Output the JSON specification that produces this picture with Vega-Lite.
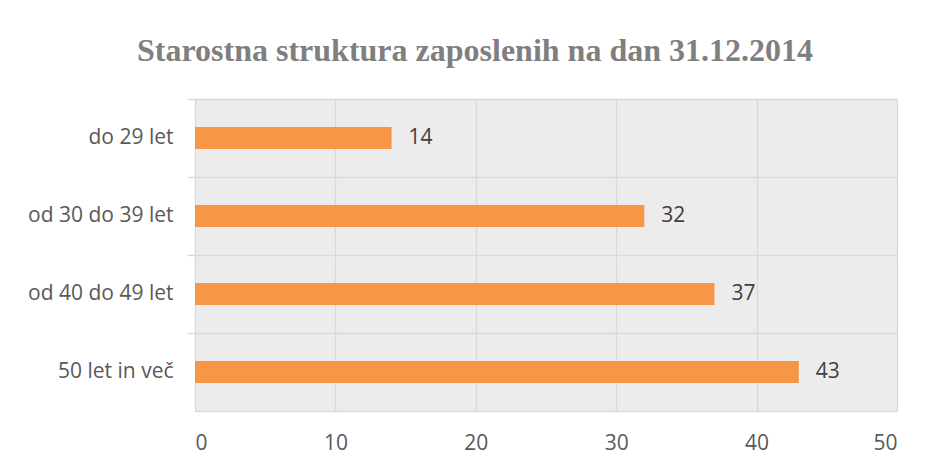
{
  "$schema": "https://vega.github.io/schema/vega-lite/v6.json",
  "autosize": "none",
  "padding": {"left": 195, "top": 99, "right": 33, "bottom": 55},
  "width": 702,
  "height": 312,
  "background": "white",
  "title": {
    "text": "Starostna struktura zaposlenih na dan 31.12.2014",
    "font": "Liberation Serif",
    "fontSize": 32,
    "fontWeight": "bold",
    "color": "#7f7f7f",
    "anchor": "middle",
    "dx": -71,
    "offset": 30
  },
  "config": {
    "view": {"fill": "#ececec", "stroke": null},
    "axis": {
      "labelFont": "Open Sans",
      "labelFontSize": 21,
      "labelColor": "#595959",
      "gridColor": "#d9d9d9",
      "gridWidth": 1.3,
      "tickColor": "#d9d9d9",
      "tickWidth": 1.3,
      "domainColor": "#d9d9d9",
      "domainWidth": 1.3,
      "title": null
    }
  },
  "data": {
    "values": [
      {"kategorija": "do 29 let", "stevilo": 14},
      {"kategorija": "od 30 do 39 let", "stevilo": 32},
      {"kategorija": "od 40 do 49 let", "stevilo": 37},
      {"kategorija": "50 let in več", "stevilo": 43}
    ]
  },
  "encoding": {
    "y": {
      "field": "kategorija",
      "type": "nominal",
      "sort": null,
      "scale": {"paddingInner": 0, "paddingOuter": 0},
      "axis": {
        "bandPosition": 0,
        "grid": true,
        "ticks": true,
        "tickSize": 8,
        "domain": false,
        "labelPadding": 14
      }
    },
    "x": {
      "field": "stevilo",
      "type": "quantitative",
      "scale": {"domain": [0, 50]},
      "axis": {
        "values": [0, 10, 20, 30, 40, 50],
        "grid": true,
        "ticks": false,
        "domain": true,
        "labelPadding": 21
      }
    }
  },
  "layer": [
    {
      "mark": {"type": "bar", "color": "#f79646", "size": 22}
    },
    {
      "mark": {
        "type": "text",
        "align": "left",
        "baseline": "middle",
        "dx": 17,
        "font": "Open Sans",
        "fontSize": 21,
        "color": "#404040"
      },
      "encoding": {"text": {"field": "stevilo", "type": "quantitative"}}
    }
  ]
}
